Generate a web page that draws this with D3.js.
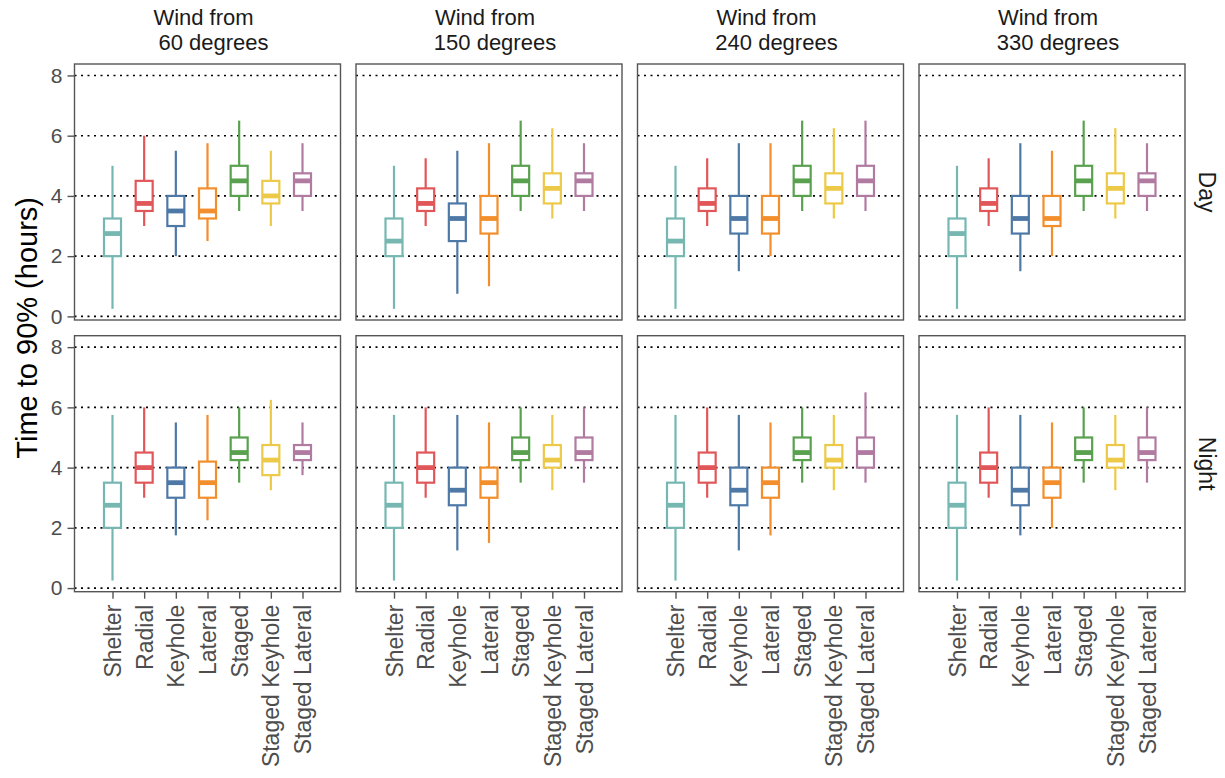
<!DOCTYPE html>
<html>
<head>
<meta charset="utf-8">
<script src="https://cdn.jsdelivr.net/npm/d3@7"></script>
<style>
  html, body { margin: 0; padding: 0; background: #fff; }
  svg { display: block; font-family: "Liberation Sans", Arial, sans-serif; }
</style>
</head>
<body>
<svg id="chart" width="1225" height="778"></svg>
<script>
// Evacuation strategies (x categories) and their colours
const strategies = ["Shelter", "Radial", "Keyhole", "Lateral", "Staged", "Staged Keyhole", "Staged Lateral"];
const strategyColors = ["#76b7b2", "#e15759", "#4e79a7", "#f28e2b", "#59a14f", "#edc948", "#b07aa1"];

// Facets
const windDirections = ["60", "150", "240", "330"];
const periods = ["Day", "Night"];

// Y axis ticks (hours)
const yTicks = [0, 2, 4, 6, 8];

// Five-number summaries [whisker low, Q1, median, Q3, whisker high], one row per strategy
const day060 = [
  [0.25, 2.0, 2.75, 3.25, 5.0],
  [3.0, 3.5, 3.75, 4.5, 6.0],
  [2.0, 3.0, 3.5, 4.0, 5.5],
  [2.5, 3.25, 3.5, 4.25, 5.75],
  [3.5, 4.0, 4.5, 5.0, 6.5],
  [3.0, 3.75, 4.0, 4.5, 5.5],
  [3.5, 4.0, 4.5, 4.75, 5.75]
];
const day150 = [
  [0.25, 2.0, 2.5, 3.25, 5.0],
  [3.0, 3.5, 3.75, 4.25, 5.25],
  [0.75, 2.5, 3.25, 3.75, 5.5],
  [1.0, 2.75, 3.25, 4.0, 5.75],
  [3.5, 4.0, 4.5, 5.0, 6.5],
  [3.25, 3.75, 4.25, 4.75, 6.25],
  [3.5, 4.0, 4.5, 4.75, 5.75]
];
const day240 = [
  [0.25, 2.0, 2.5, 3.25, 5.0],
  [3.0, 3.5, 3.75, 4.25, 5.25],
  [1.5, 2.75, 3.25, 4.0, 5.75],
  [2.0, 2.75, 3.25, 4.0, 5.75],
  [3.5, 4.0, 4.5, 5.0, 6.5],
  [3.25, 3.75, 4.25, 4.75, 6.25],
  [3.5, 4.0, 4.5, 5.0, 6.5]
];
const day330 = [
  [0.25, 2.0, 2.75, 3.25, 5.0],
  [3.0, 3.5, 3.75, 4.25, 5.25],
  [1.5, 2.75, 3.25, 4.0, 5.75],
  [2.0, 3.0, 3.25, 4.0, 5.5],
  [3.5, 4.0, 4.5, 5.0, 6.5],
  [3.25, 3.75, 4.25, 4.75, 6.25],
  [3.5, 4.0, 4.5, 4.75, 5.75]
];
const night060 = [
  [0.25, 2.0, 2.75, 3.5, 5.75],
  [3.0, 3.5, 4.0, 4.5, 6.0],
  [1.75, 3.0, 3.5, 4.0, 5.5],
  [2.25, 3.0, 3.5, 4.2, 5.75],
  [3.5, 4.25, 4.5, 5.0, 6.0],
  [3.25, 3.75, 4.25, 4.75, 6.25],
  [3.75, 4.25, 4.5, 4.75, 5.5]
];
const night150 = [
  [0.25, 2.0, 2.75, 3.5, 5.75],
  [3.0, 3.5, 4.0, 4.5, 6.0],
  [1.25, 2.75, 3.25, 4.0, 5.75],
  [1.5, 3.0, 3.5, 4.0, 5.5],
  [3.5, 4.25, 4.5, 5.0, 6.0],
  [3.25, 4.0, 4.25, 4.75, 5.75],
  [3.5, 4.25, 4.5, 5.0, 6.0]
];
const night240 = [
  [0.25, 2.0, 2.75, 3.5, 5.75],
  [3.0, 3.5, 4.0, 4.5, 6.0],
  [1.25, 2.75, 3.25, 4.0, 5.75],
  [1.75, 3.0, 3.5, 4.0, 5.5],
  [3.5, 4.25, 4.5, 5.0, 6.0],
  [3.25, 4.0, 4.25, 4.75, 5.75],
  [3.5, 4.0, 4.5, 5.0, 6.5]
];
const night330 = [
  [0.25, 2.0, 2.75, 3.5, 5.75],
  [3.0, 3.5, 4.0, 4.5, 6.0],
  [1.75, 2.75, 3.25, 4.0, 5.75],
  [2.0, 3.0, 3.5, 4.0, 5.5],
  [3.5, 4.25, 4.5, 5.0, 6.0],
  [3.25, 4.0, 4.25, 4.75, 5.75],
  [3.5, 4.25, 4.5, 5.0, 6.0]
];

const facetData = {
  Day: [day060, day150, day240, day330],
  Night: [night060, night150, night240, night330]
};

// ---- layout ----
const svg = d3.select("#chart");
const panelW = 266, panelH = 256;
const panelLeft0 = 74.5, panelGap = 281.5;
const rowTops = [64, 335.7];
const fontFamily = "'Liberation Sans', Arial, sans-serif";

const x = d3.scalePoint().domain(strategies).range([0, panelW]).padding(1.2);
const y = d3.scaleLinear().domain([-0.12, 8.38]).range([panelH, 0]);
const color = d3.scaleOrdinal().domain(strategies).range(strategyColors);
const boxW = 17;

periods.forEach((period, r) => {
  windDirections.forEach((wind, c) => {
    const left = panelLeft0 + c * panelGap;
    const g = svg.append("g").attr("transform", `translate(${left},${rowTops[r]})`);

    // dotted horizontal reference lines
    g.selectAll("line.grid").data(yTicks).join("line")
      .attr("class", "grid")
      .attr("x1", 0).attr("x2", panelW)
      .attr("y1", d => y(d)).attr("y2", d => y(d))
      .attr("stroke", "#000").attr("stroke-width", 1.6)
      .attr("stroke-dasharray", "2,4.5");

    const rows = facetData[period][c].map((s, i) => ({
      name: strategies[i], lo: s[0], q1: s[1], med: s[2], q3: s[3], hi: s[4]
    }));

    const box = g.selectAll("g.box").data(rows).join("g")
      .attr("class", "box")
      .attr("transform", d => `translate(${x(d.name)},0)`);

    // whiskers
    box.append("line")
      .attr("x1", 0).attr("x2", 0)
      .attr("y1", d => y(d.hi)).attr("y2", d => y(d.q3))
      .attr("stroke", d => color(d.name)).attr("stroke-width", 2.2);
    box.append("line")
      .attr("x1", 0).attr("x2", 0)
      .attr("y1", d => y(d.q1)).attr("y2", d => y(d.lo))
      .attr("stroke", d => color(d.name)).attr("stroke-width", 2.2);

    // interquartile box
    box.append("rect")
      .attr("x", -boxW / 2).attr("width", boxW)
      .attr("y", d => y(d.q3)).attr("height", d => y(d.q1) - y(d.q3))
      .attr("fill", "#fff")
      .attr("stroke", d => color(d.name)).attr("stroke-width", 2.2);

    // median
    box.append("line")
      .attr("x1", -boxW / 2).attr("x2", boxW / 2)
      .attr("y1", d => y(d.med)).attr("y2", d => y(d.med))
      .attr("stroke", d => color(d.name)).attr("stroke-width", 4.8);

    // panel frame
    g.append("rect")
      .attr("width", panelW).attr("height", panelH)
      .attr("fill", "none").attr("stroke", "#555").attr("stroke-width", 1.4);

    // left axis on first column
    if (c === 0) {
      const ax = g.append("g").call(d3.axisLeft(y).tickValues(yTicks).tickSize(7).tickPadding(5).tickFormat(d3.format("d")));
      ax.select(".domain").remove();
      ax.selectAll("line").attr("stroke", "#555").attr("stroke-width", 1.4);
      ax.selectAll("text").attr("fill", "#4d4d4d").style("font-size", "21px")
        .style("font-family", fontFamily);
    }

    // bottom axis on second row
    if (r === periods.length - 1) {
      const ax = g.append("g").attr("transform", `translate(0,${panelH})`)
        .call(d3.axisBottom(x).tickSize(7).tickPadding(4));
      ax.select(".domain").remove();
      ax.selectAll("line").attr("stroke", "#555").attr("stroke-width", 1.4);
      ax.selectAll("text")
        .attr("fill", "#4d4d4d")
        .style("font-size", "23px")
        .style("font-family", fontFamily)
        .attr("text-anchor", "end")
        .attr("dy", null)
        .attr("dominant-baseline", "central")
        .attr("transform", "rotate(-90)")
        .attr("x", -13).attr("y", 0);
    }

    // column strip titles
    if (r === 0) {
      const cx = left + panelW / 2;
      const t = svg.append("text")
        .attr("text-anchor", "middle")
        .attr("fill", "#1a1a1a")
        .style("font-size", "22px");
      t.append("tspan").attr("x", cx - 4).attr("y", 25).text("Wind from");
      t.append("tspan").attr("x", cx + 6).attr("y", 50).text(`${wind} degrees`);
    }
  });

  // row strip labels
  const cy = rowTops[r] + panelH / 2;
  svg.append("text")
    .attr("transform", `translate(1207,${cy}) rotate(90)`)
    .attr("text-anchor", "middle")
    .attr("dominant-baseline", "central")
    .attr("fill", "#1a1a1a")
    .style("font-size", "23px")
    .text(period);
});

// y axis title
svg.append("text")
  .attr("transform", `translate(27,${(rowTops[0] + rowTops[1] + panelH) / 2}) rotate(-90)`)
  .attr("text-anchor", "middle")
  .attr("dominant-baseline", "central")
  .attr("fill", "#000")
  .style("font-size", "29px")
  .text("Time to 90% (hours)");
</script>
</body>
</html>
